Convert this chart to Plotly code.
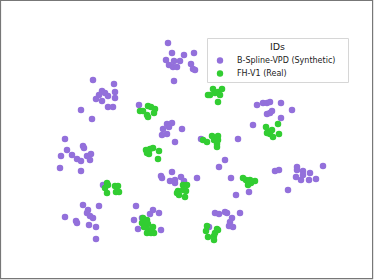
import plotly.graph_objects as go

# B-Spline-VPD (Synthetic) embedding coordinates
synth_x = [168, 172, 184, 194, 166, 174, 180, 169, 173, 177, 191, 193, 195, 174,
           93, 114, 102, 115, 105, 99, 108, 96, 102, 115, 108, 113, 81, 92,
           139, 167, 172, 163, 169, 182, 167, 162, 175,
           65, 83, 84, 67, 72, 61, 77, 81, 87, 91, 90, 60, 81,
           83, 99, 88, 87, 65, 90, 93, 76, 77, 89, 96, 96,
           136, 153, 159, 150, 134, 138, 161, 142,
           103, 201, 238,
           257, 263, 267, 270, 281, 292, 267, 270, 272, 281, 253,
           225, 219, 231, 236, 249, 275, 279, 288,
           297, 297, 303, 310, 303, 296, 301, 309, 316, 323,
           161, 162, 172, 170, 175, 181, 184, 175, 197,
           215, 219, 225, 227, 240, 232, 230, 229, 233, 209]
synth_y = [43, 53, 55, 53, 60, 61, 61, 65, 67, 67, 64, 69, 70, 81,
           80, 84, 91, 92, 93, 95, 96, 99, 101, 98, 107, 107, 110, 119,
           105, 124, 123, 129, 127, 129, 134, 135, 142,
           139, 146, 148, 150, 155, 156, 159, 161, 156, 154, 160, 168, 171,
           205, 206, 210, 213, 217, 216, 218, 221, 223, 225, 227, 239,
           206, 210, 213, 214, 220, 229, 230, 218,
           185, 139, 139,
           105, 103, 103, 102, 103, 110, 114, 113, 111, 118, 125,
           160, 167, 178, 195, 192, 171, 170, 190,
           167, 170, 171, 173, 175, 177, 180, 180, 179, 166,
           176, 178, 172, 181, 180, 177, 181, 183, 178,
           213, 214, 212, 213, 213, 218, 222, 226, 227, 227]

# FH-V1 (Real) embedding coordinates
real_x = [208, 210, 213, 218, 222, 215, 220, 218,
          140, 143, 148, 151, 155, 154, 147, 148,
          146, 150, 153, 159, 149, 147, 158,
          203, 207, 212, 214, 218, 218, 217, 217,
          266, 278, 268, 272, 270, 273, 279, 267,
          107, 108, 105, 107, 115, 118, 116, 119,
          243, 246, 248, 251, 255, 248, 250,
          183, 187, 178, 186, 177, 179, 185, 183,
          143, 147, 142, 148, 153, 144, 148, 147, 151, 154, 152, 146,
          207, 206, 208, 214, 214, 217, 218, 215]
real_y = [95, 95, 89, 92, 89, 93, 95, 102,
          111, 111, 106, 107, 109, 113, 115, 117,
          150, 149, 148, 151, 154, 153, 159,
          140, 142, 136, 140, 136, 140, 144, 147,
          127, 124, 132, 130, 134, 137, 134, 133,
          183, 185, 188, 193, 186, 186, 192, 192,
          178, 180, 182, 183, 181, 185, 180,
          185, 185, 191, 191, 193, 195, 197, 190,
          218, 220, 223, 224, 227, 227, 230, 233, 233, 233, 230, 222,
          226, 231, 237, 236, 240, 229, 230, 233]

series_names = ["B-Spline-VPD (Synthetic)", "FH-V1 (Real)"]
series_colors = ["#9370DB", "#32CD32"]
legend_title = "IDs"

W, H = 374, 280


def px(v):
    return v / W


def py(v):
    return 1 - v / H


fig = go.Figure()
fig.add_trace(go.Scatter(x=synth_x, y=synth_y, mode="markers", name=series_names[0],
                         marker=dict(color=series_colors[0], size=6.5, line=dict(width=0))))
fig.add_trace(go.Scatter(x=real_x, y=real_y, mode="markers", name=series_names[1],
                         marker=dict(color=series_colors[1], size=6.5, line=dict(width=0))))

# legend drawn in paper space (box, title, swatches, labels)
shapes = [dict(type="rect", xref="paper", yref="paper",
               x0=px(0.5), x1=px(372.6), y0=py(278.6), y1=py(0.5),
               line=dict(color="#777777", width=1.2), layer="above")]
bx0, bx1, by0, by1 = 207.5, 348.5, 38.5, 82.5
shapes.append(dict(type="rect", xref="paper", yref="paper",
                   x0=px(bx0), x1=px(bx1), y0=py(by1), y1=py(by0),
                   line=dict(color="#d6d6d6", width=1), fillcolor="rgba(255,255,255,0.85)",
                   layer="above"))
annotations = [dict(text=legend_title, xref="paper", yref="paper", x=px(277.5), y=py(46.5),
                    xanchor="center", yanchor="middle", showarrow=False,
                    font=dict(size=9.5, color="#222"))]
row_y = [60.5, 73.5]
for name, color, ry in zip(series_names, series_colors, row_y):
    shapes.append(dict(type="circle", xref="paper", yref="paper",
                       x0=px(220 - 3.2), x1=px(220 + 3.2), y0=py(ry + 3.2), y1=py(ry - 3.2),
                       fillcolor=color, line=dict(width=0), layer="above"))
    annotations.append(dict(text=name, xref="paper", yref="paper", x=px(234.5), y=py(ry),
                            xanchor="left", yanchor="middle", showarrow=False,
                            font=dict(size=8, color="#222")))

fig.update_layout(
    width=W, height=H,
    margin=dict(l=0, r=0, t=0, b=0),
    plot_bgcolor="white", paper_bgcolor="white",
    font=dict(family="DejaVu Sans", color="#222"),
    xaxis=dict(range=[0, W], visible=False, fixedrange=True),
    yaxis=dict(range=[H, 0], visible=False, fixedrange=True),
    showlegend=False,
    shapes=shapes,
    annotations=annotations,
)

fig.write_html("out.html", config={"displayModeBar": False},
               post_script="document.body.style.margin='0';document.body.style.overflow='hidden';")
